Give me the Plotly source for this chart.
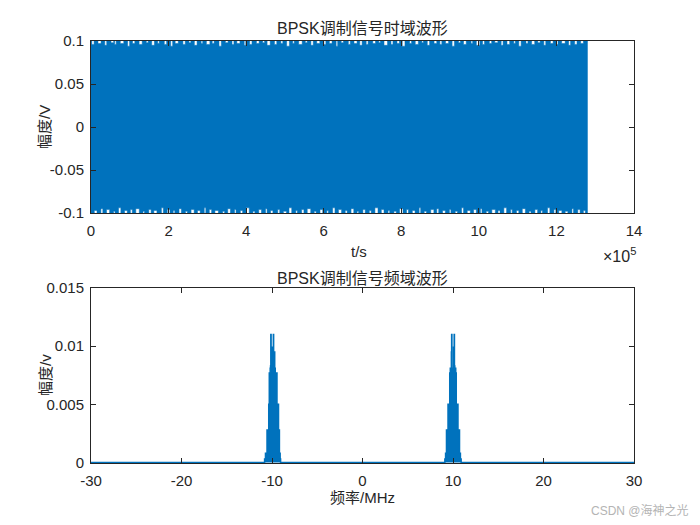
import plotly.graph_objects as go

# ---------------- data ----------------
# time-domain BPSK signal: amplitude and duration (s)
signal_amp = 0.1
signal_end = 12.8e5
# envelope notches on the top edge (time in 1e5 s, depth in V, width in 1e5 s)
top_notch_t = [0.05, 0.22, 0.38, 0.55, 0.63, 0.80, 0.97, 1.10, 1.28, 1.45, 1.60, 1.74, 1.92, 2.08,
               2.21, 2.40, 2.55, 2.70, 2.86, 3.02, 3.15, 3.33, 3.50, 3.66, 3.80, 3.97, 4.12, 4.30,
               4.45, 4.58, 4.76, 4.92, 5.08, 5.22, 5.40, 5.55, 5.70, 5.86, 6.03, 6.18, 6.34, 6.48,
               6.66, 6.82, 6.96, 7.12, 7.30, 7.44, 7.60, 7.76, 7.92, 8.06, 8.24, 8.40, 8.55, 8.70,
               8.88, 9.02, 9.18, 9.34, 9.50, 9.64, 9.82, 9.98, 10.12, 10.30, 10.45, 10.60, 10.76,
               10.92, 11.06, 11.24, 11.40, 11.55, 11.70, 11.88, 12.02, 12.18, 12.34, 12.50, 12.66]
top_notch_d = [0.004, 0.003, 0.005, 0.002, 0.004, 0.003, 0.006, 0.003, 0.004, 0.002, 0.005, 0.003,
               0.004, 0.006, 0.003, 0.004, 0.002, 0.005, 0.003, 0.004, 0.003, 0.006, 0.002, 0.004,
               0.003, 0.005, 0.004, 0.003, 0.002, 0.005, 0.004, 0.003, 0.006, 0.003, 0.004, 0.002,
               0.005, 0.003, 0.004, 0.003, 0.006, 0.002, 0.004, 0.003, 0.005, 0.004, 0.003, 0.002,
               0.005, 0.004, 0.003, 0.006, 0.003, 0.004, 0.002, 0.005, 0.003, 0.004, 0.003, 0.006,
               0.002, 0.004, 0.003, 0.005, 0.004, 0.003, 0.002, 0.005, 0.004, 0.003, 0.006, 0.003,
               0.004, 0.002, 0.005, 0.003, 0.004, 0.003, 0.005, 0.004, 0.003]
top_notch_w = [0.06, 0.08, 0.05, 0.07, 0.04, 0.09, 0.05, 0.06, 0.08, 0.05, 0.07, 0.04, 0.06, 0.05,
               0.08, 0.06, 0.05, 0.07, 0.04, 0.09, 0.05, 0.06, 0.07, 0.05, 0.08, 0.04, 0.06, 0.07,
               0.05, 0.08, 0.06, 0.05, 0.07, 0.04, 0.09, 0.05, 0.06, 0.08, 0.05, 0.07, 0.04, 0.06,
               0.05, 0.08, 0.06, 0.05, 0.07, 0.04, 0.09, 0.05, 0.06, 0.07, 0.05, 0.08, 0.04, 0.06,
               0.07, 0.05, 0.08, 0.06, 0.05, 0.07, 0.04, 0.09, 0.05, 0.06, 0.08, 0.05, 0.07, 0.04,
               0.06, 0.05, 0.08, 0.06, 0.05, 0.07, 0.04, 0.09, 0.05, 0.06, 0.07]
# envelope notches on the bottom edge
bot_notch_t = [0.12, 0.28, 0.44, 0.60, 0.74, 0.90, 1.04, 1.20, 1.36, 1.52, 1.66, 1.84, 2.00, 2.14,
               2.30, 2.46, 2.62, 2.78, 2.94, 3.08, 3.24, 3.42, 3.56, 3.72, 3.88, 4.04, 4.20, 4.36,
               4.52, 4.66, 4.84, 5.00, 5.14, 5.30, 5.46, 5.62, 5.78, 5.94, 6.10, 6.26, 6.42, 6.58,
               6.74, 6.88, 7.04, 7.20, 7.36, 7.52, 7.68, 7.84, 8.00, 8.16, 8.32, 8.48, 8.62, 8.80,
               8.94, 9.10, 9.26, 9.42, 9.58, 9.74, 9.90, 10.06, 10.22, 10.38, 10.52, 10.68, 10.84,
               11.00, 11.16, 11.32, 11.48, 11.62, 11.80, 11.96, 12.10, 12.26, 12.42, 12.58, 12.72]
bot_notch_d = [0.003, 0.005, 0.004, 0.002, 0.006, 0.003, 0.004, 0.005, 0.002, 0.004, 0.003, 0.006,
               0.004, 0.003, 0.005, 0.002, 0.004, 0.003, 0.006, 0.004, 0.003, 0.002, 0.005, 0.004,
               0.003, 0.006, 0.002, 0.004, 0.005, 0.003, 0.004, 0.002, 0.006, 0.003, 0.004, 0.005,
               0.002, 0.004, 0.003, 0.006, 0.004, 0.003, 0.005, 0.002, 0.004, 0.003, 0.006, 0.004,
               0.003, 0.002, 0.005, 0.004, 0.003, 0.006, 0.002, 0.004, 0.005, 0.003, 0.004, 0.002,
               0.006, 0.003, 0.004, 0.005, 0.002, 0.004, 0.003, 0.006, 0.004, 0.003, 0.005, 0.002,
               0.004, 0.003, 0.006, 0.004, 0.003, 0.002, 0.005, 0.004, 0.003]
bot_notch_w = [0.07, 0.05, 0.08, 0.04, 0.06, 0.07, 0.05, 0.09, 0.04, 0.06, 0.08, 0.05, 0.07, 0.04,
               0.06, 0.05, 0.08, 0.07, 0.04, 0.06, 0.09, 0.05, 0.07, 0.04, 0.06, 0.08, 0.05, 0.07,
               0.04, 0.06, 0.05, 0.08, 0.07, 0.04, 0.06, 0.09, 0.05, 0.07, 0.04, 0.06, 0.08, 0.05,
               0.07, 0.04, 0.06, 0.05, 0.08, 0.07, 0.04, 0.06, 0.09, 0.05, 0.07, 0.04, 0.06, 0.08,
               0.05, 0.07, 0.04, 0.06, 0.05, 0.08, 0.07, 0.04, 0.06, 0.09, 0.05, 0.07, 0.04, 0.06,
               0.08, 0.05, 0.07, 0.04, 0.06, 0.05, 0.08, 0.07, 0.04, 0.06, 0.05]

# spectrum: carrier frequency (MHz), peak profile (offset MHz, magnitude)
carrier_mhz = 10
freq_min, freq_max = -30, 30
peak_offset = [-0.95, -0.90, -0.82, -0.72, -0.55, -0.36, -0.30, -0.18, -0.15, -0.12, -0.06,
               0.00, 0.06, 0.10, 0.13, 0.16, 0.20, 0.30, 0.36, 0.55, 0.72, 0.82, 0.90, 0.95]
peak_mag = [0.0, 0.0003, 0.0008, 0.0028, 0.0050, 0.0077, 0.0081, 0.0095, 0.0110, 0.0081, 0.0079,
            0.0077, 0.0099, 0.0082, 0.0110, 0.0083, 0.0081, 0.0077, 0.0050, 0.0028, 0.0008, 0.0003,
            0.0, 0.0]

top_xticks = [0, 2, 4, 6, 8, 10, 12, 14]
top_yticks = [-0.1, -0.05, 0, 0.05, 0.1]
bot_xticks = [-30, -20, -10, 0, 10, 20, 30]
bot_yticks = [0, 0.005, 0.01, 0.015]

# ---------------- build shapes from data ----------------
SCALE = 1e5


def edge(notch_t, notch_d, notch_w, level, sign):
    xs, ys = [0.0], [level]
    for t, d, w in zip(notch_t, notch_d, notch_w):
        a, b = (t - w / 2) * SCALE, (t + w / 2) * SCALE
        xs += [a, a, b, b]
        ys += [level, level - sign * d, level - sign * d, level]
    xs.append(signal_end)
    ys.append(level)
    return xs, ys


ux, uy = edge(top_notch_t, top_notch_d, top_notch_w, signal_amp, 1)
lx, ly = edge(bot_notch_t, bot_notch_d, bot_notch_w, -signal_amp, -1)
poly_x = ux + lx[::-1] + [ux[0]]
poly_y = uy + ly[::-1] + [uy[0]]

spec_x = [freq_min]
spec_y = [0.0]
for o, m in zip(peak_offset[::-1], peak_mag[::-1]):
    spec_x.append(-carrier_mhz - o)
    spec_y.append(m)
for o, m in zip(peak_offset, peak_mag):
    spec_x.append(carrier_mhz + o)
    spec_y.append(m)
spec_x.append(freq_max)
spec_y.append(0.0)

BLUE = '#0072BD'
AX = '#262626'
FONT = 'Liberation Sans, Arial, Noto Sans CJK SC'
W, H = 700, 525


def px(x):
    return x / W


def py(y):
    return 1 - y / H


fig = go.Figure()
fig.add_trace(go.Scatter(x=poly_x, y=poly_y, mode='lines', fill='toself', fillcolor=BLUE,
                         line=dict(color=BLUE, width=0.5), xaxis='x', yaxis='y',
                         hoverinfo='skip', showlegend=False))
fig.add_trace(go.Scatter(x=spec_x, y=spec_y, mode='lines', fill='tozeroy', fillcolor=BLUE,
                         line=dict(color=BLUE, width=1.5, shape='hv'), xaxis='x2', yaxis='y2',
                         showlegend=False))

axis_common = dict(showline=True, linecolor=AX, linewidth=1, mirror='ticks', ticks='inside',
                   ticklen=5, tickcolor=AX, tickwidth=1, showgrid=False, zeroline=False,
                   automargin=False, tickfont=dict(family=FONT, size=15, color=AX))

x0, x1 = px(91), px(634)
fig.update_layout(
    width=W, height=H, autosize=False,
    margin=dict(l=0, r=0, t=0, b=0),
    paper_bgcolor='white', plot_bgcolor='white',
    font=dict(family=FONT, color=AX),
    xaxis=dict(domain=[x0, x1], range=[0, 14 * SCALE], tickvals=[v * SCALE for v in top_xticks],
               ticktext=[str(v) for v in top_xticks], anchor='y', ticklabelstandoff=4, **axis_common),
    yaxis=dict(domain=[py(213), py(41)], range=[-0.1, 0.1], tickvals=top_yticks,
               ticktext=['-0.1', '-0.05', '0', '0.05', '0.1'], anchor='x', ticklabelstandoff=3,
               **axis_common),
    xaxis2=dict(domain=[x0, x1], range=[freq_min, freq_max], tickvals=bot_xticks,
                ticktext=[str(v) for v in bot_xticks], anchor='y2', ticklabelstandoff=4, **axis_common),
    yaxis2=dict(domain=[py(463), py(288)], range=[-0.00004, 0.015], tickvals=bot_yticks,
                ticktext=['0', '0.005', '0.01', '0.015'], anchor='x2', ticklabelstandoff=3,
                **axis_common),
)

ann = [
    dict(text='BPSK调制信号时域波形', x=px(362), y=py(28), size=16),
    dict(text='BPSK调制信号频域波形', x=px(362), y=py(278), size=16),
    dict(text='t/s', x=px(359), y=py(251), size=15),
    dict(text='频率/MHz', x=px(362), y=py(497), size=15),
    dict(text='×10<sup>5</sup>', x=px(619), y=py(255), size=16),
]
for a in ann:
    fig.add_annotation(text=a['text'], x=a['x'], y=a['y'], xref='paper', yref='paper',
                       showarrow=False, xanchor='center', yanchor='middle',
                       font=dict(family=FONT, size=a['size'], color=AX))
for txt, yy in [('幅度/V', 127), ('幅度/v', 375)]:
    fig.add_annotation(text=txt, x=px(45), y=py(yy), xref='paper', yref='paper', showarrow=False,
                       textangle=-90, xanchor='center', yanchor='middle',
                       font=dict(family=FONT, size=15, color=AX))
fig.add_annotation(text='CSDN @海神之光', x=px(640), y=py(510), xref='paper', yref='paper',
                   showarrow=False, xanchor='center', yanchor='middle',
                   font=dict(family=FONT, size=12, color='#b4b4b4'))

fig.write_html('out.html', config={'displayModeBar': False},
               post_script="document.body.style.margin='0px';document.body.style.padding='0px';"
                           "document.body.style.overflow='hidden';")
